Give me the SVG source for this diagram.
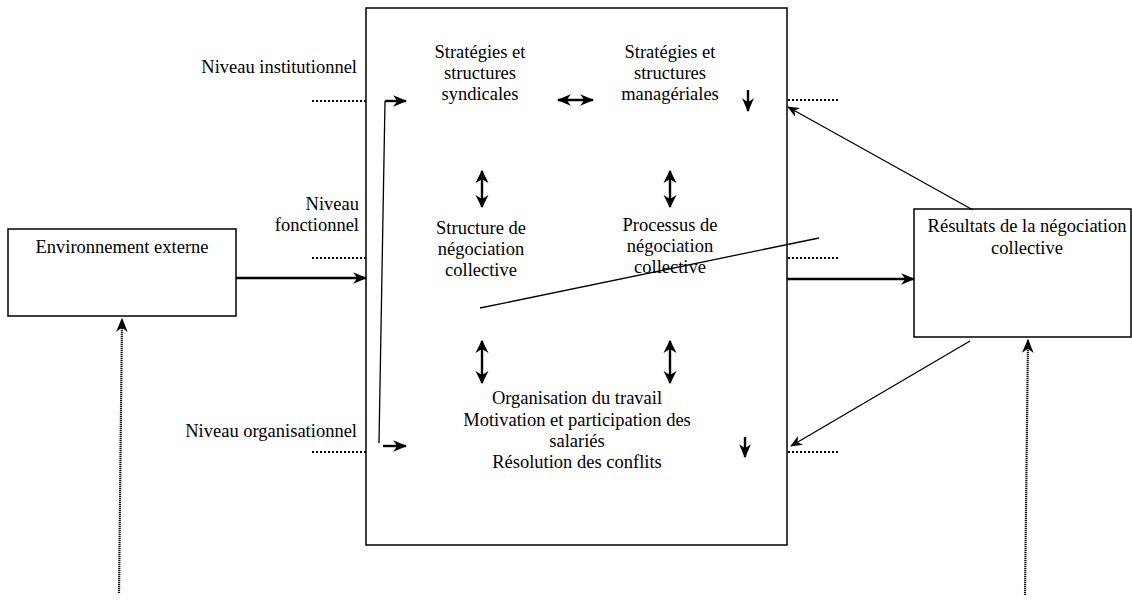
<svg xmlns="http://www.w3.org/2000/svg" width="1132" height="600" viewBox="0 0 1132 600">
<style>
  text { font-family: "Liberation Serif", "Times New Roman", serif; font-size: 18.5px; fill: #000; }
  .c { text-anchor: middle; }
  .r { text-anchor: end; }
  .box { fill: #fff; stroke: #000; stroke-width: 1.5; }
  .thick { fill: none; stroke: #000; stroke-width: 2.4; }
  .thin { fill: none; stroke: #000; stroke-width: 1.3; }
  .dot { fill: none; stroke: #000; stroke-width: 2.2; stroke-dasharray: 2 2; }
  .fine { fill: none; stroke: #111; stroke-width: 2.2; stroke-dasharray: 1.2 0.8; }
</style>
<defs>
  <marker id="ah" viewBox="0 0 12 10" refX="11" refY="5" markerWidth="14" markerHeight="12" markerUnits="userSpaceOnUse" orient="auto-start-reverse">
    <path d="M0,0 L12,5 L0,10 L3.5,5 z" fill="#000"/>
  </marker>
  <marker id="ad" viewBox="0 0 12 12" refX="11" refY="6" markerWidth="13" markerHeight="14" markerUnits="userSpaceOnUse" orient="auto-start-reverse">
    <path d="M0,0 L12,6 L0,12 L3.5,6 z" fill="#000"/>
  </marker>
  <marker id="as" viewBox="0 0 12 10" refX="11" refY="5" markerWidth="12" markerHeight="10" markerUnits="userSpaceOnUse" orient="auto-start-reverse">
    <path d="M0,0 L12,5 L0,10 L3.5,5 z" fill="#000"/>
  </marker>
  <linearGradient id="fade" x1="0" y1="0" x2="1" y2="0">
    <stop offset="0" stop-color="#333"/>
    <stop offset="1" stop-color="#bbb"/>
  </linearGradient>
</defs>

<g id="main-box">
  <rect class="box" x="366" y="8" width="421" height="537"/>
</g>

<g id="environnement-externe">
  <rect class="box" x="8" y="229" width="228" height="87"/>
  <text class="c" x="122" y="253">Environnement externe</text>
</g>

<g id="resultats">
  <rect class="box" x="914" y="209" width="217" height="128"/>
  <text class="c" x="1027" y="232">Résultats de la négociation</text>
  <text class="c" x="1027" y="254">collective</text>
</g>

<g id="niveau-institutionnel">
  <text class="r" x="357" y="73">Niveau institutionnel</text>
</g>
<g id="niveau-fonctionnel">
  <text class="r" x="359" y="210">Niveau</text>
  <text class="r" x="359" y="231">fonctionnel</text>
</g>
<g id="niveau-organisationnel">
  <text class="r" x="357" y="437">Niveau organisationnel</text>
</g>

<g id="strategies-syndicales">
  <text class="c" x="480" y="58">Stratégies et</text>
  <text class="c" x="480" y="79">structures</text>
  <text class="c" x="480" y="100">syndicales</text>
</g>
<g id="strategies-manageriales">
  <text class="c" x="670" y="58">Stratégies et</text>
  <text class="c" x="670" y="79">structures</text>
  <text class="c" x="670" y="100">managériales</text>
</g>
<g id="structure-negociation">
  <text class="c" x="481" y="234">Structure de</text>
  <text class="c" x="481" y="255">négociation</text>
  <text class="c" x="481" y="276">collective</text>
</g>
<g id="processus-negociation">
  <text class="c" x="670" y="231">Processus de</text>
  <text class="c" x="670" y="252">négociation</text>
  <text class="c" x="670" y="273">collective</text>
</g>
<g id="organisation">
  <text class="c" x="577" y="404">Organisation du travail</text>
  <text class="c" x="577" y="426">Motivation et participation des</text>
  <text class="c" x="577" y="447">salariés</text>
  <text class="c" x="577" y="468">Résolution des conflits</text>
</g>

<g id="connectors">
  <line class="dot" x1="312" y1="101" x2="366" y2="101"/>
  <line class="dot" x1="312" y1="258" x2="366" y2="258"/>
  <line class="dot" x1="312" y1="452" x2="366" y2="452"/>
  <line class="dot" x1="788" y1="100" x2="840" y2="100"/>
  <line class="dot" x1="788" y1="258" x2="840" y2="258"/>
  <line class="dot" x1="788" y1="452" x2="840" y2="452"/>

  <line class="thick" x1="236" y1="278" x2="366" y2="278" marker-end="url(#ah)"/>
  <line class="thick" x1="787" y1="279" x2="914" y2="279" marker-end="url(#ah)"/>

  <line class="thin" x1="973" y1="210" x2="788" y2="107" marker-end="url(#as)" stroke-width="1.7"/>
  <line class="thin" x1="970" y1="341" x2="791" y2="446" marker-end="url(#as)" stroke-width="1.7"/>

  <line class="thick" x1="558" y1="100" x2="593" y2="100" marker-start="url(#ah)" marker-end="url(#ah)"/>
  <line class="thick" x1="482" y1="171" x2="482" y2="207" marker-start="url(#ad)" marker-end="url(#ad)"/>
  <line class="thick" x1="670" y1="171" x2="670" y2="207" marker-start="url(#ad)" marker-end="url(#ad)"/>
  <line class="thick" x1="482" y1="341" x2="482" y2="383" marker-start="url(#ad)" marker-end="url(#ad)"/>
  <line class="thick" x1="670" y1="341" x2="670" y2="383" marker-start="url(#ad)" marker-end="url(#ad)"/>

  <line class="thick" x1="748" y1="90" x2="748" y2="111" marker-end="url(#ah)"/>
  <line class="thick" x1="745" y1="437" x2="745" y2="457" marker-end="url(#ah)"/>

  <path class="thin" d="M379,443 L385,101"/>
  <line class="thick" x1="385" y1="101" x2="406" y2="101" marker-end="url(#ah)"/>
  <line class="thick" x1="383" y1="446" x2="406" y2="446" marker-end="url(#ah)"/>

  <line class="thin" x1="480" y1="308" x2="819" y2="238"/>

  <line class="fine" x1="119" y1="593" x2="122" y2="319" marker-end="url(#ah)"/>
  <line class="fine" x1="1025" y1="595" x2="1028" y2="340" marker-end="url(#ah)"/>
  <line x1="113" y1="598" x2="406" y2="598" stroke="url(#fade)" stroke-width="2"/>
</g>
</svg>
